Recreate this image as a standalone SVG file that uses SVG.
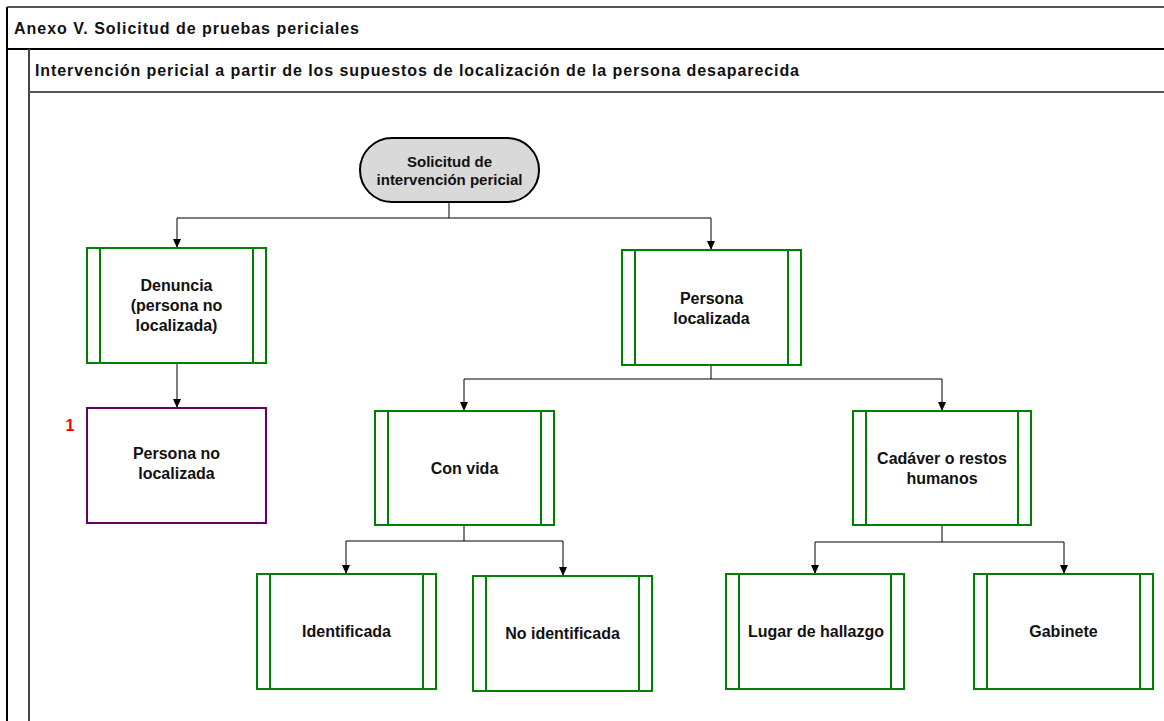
<svg xmlns="http://www.w3.org/2000/svg" width="1164" height="721" viewBox="0 0 1164 721">
  <defs>
    <!-- arrowhead drawn along +x so orient="auto" points it along the line -->
    <marker id="arrow" markerWidth="10" markerHeight="10" refX="9" refY="4.5" orient="auto" markerUnits="userSpaceOnUse" viewBox="0 0 10 10">
      <path d="M0,0.5 L9,4.5 L0,8.5 Z" fill="#000"/>
    </marker>
    <style>
      text { font-family: "Liberation Sans", Arial, sans-serif; font-weight: bold; fill: #111; }
      .hdr { font-size: 16px; }
      .lbl { font-size: 16px; text-anchor: middle; }
      .lbl-s { font-size: 15px; text-anchor: middle; }
      .proc { fill: #fff; stroke: #008000; stroke-width: 2; }
      .bar { stroke: #008000; stroke-width: 2; fill: none; }
      .term { fill: #d9d9d9; stroke: #000; stroke-width: 2; }
      .ref { fill: #fff; stroke: #660066; stroke-width: 2; }
      .conn { fill: none; stroke: #000; stroke-width: 1; }
      .lane { stroke: #555; stroke-width: 2; fill: none; }
    </style>
  </defs>
  <rect width="1164" height="721" fill="#fff"/>

  <!-- swimlane frame -->
  <g id="frame">
    <line class="lane" x1="7" y1="7" x2="1164" y2="7"/>
    <line x1="7" y1="7" x2="7" y2="721" stroke="#000" stroke-width="2"/>
    <line x1="7" y1="49" x2="1164" y2="49" stroke="#000" stroke-width="2"/>
    <line x1="29" y1="49" x2="29" y2="721" stroke="#444" stroke-width="2"/>
    <line class="lane" x1="29" y1="92" x2="1164" y2="92"/>
    <text class="hdr" x="14" y="34" textLength="345" lengthAdjust="spacing">Anexo V. Solicitud de pruebas periciales</text>
    <text class="hdr" x="35" y="76" textLength="764" lengthAdjust="spacing">Intervención pericial a partir de los supuestos de localización de la persona desaparecida</text>
  </g>

  <!-- connectors -->
  <g id="connectors">
    <polyline class="conn" points="449,202 449,218 177,218 177,248" marker-end="url(#arrow)"/>
    <polyline class="conn" points="449,218 711,218 711,250" marker-end="url(#arrow)"/>
    <polyline class="conn" points="177,363 177,408" marker-end="url(#arrow)"/>
    <polyline class="conn" points="711,365 711,379 464,379 464,411" marker-end="url(#arrow)"/>
    <polyline class="conn" points="711,379 942,379 942,411" marker-end="url(#arrow)"/>
    <polyline class="conn" points="464,525 464,541 346,541 346,574" marker-end="url(#arrow)"/>
    <polyline class="conn" points="464,541 563,541 563,576" marker-end="url(#arrow)"/>
    <polyline class="conn" points="942,525 942,542 815,542 815,574" marker-end="url(#arrow)"/>
    <polyline class="conn" points="942,542 1064,542 1064,574" marker-end="url(#arrow)"/>
  </g>

  <g id="start">
    <rect class="term" x="360" y="138" width="179" height="64" rx="32" ry="32"/>
    <text class="lbl-s" x="449.5" y="167">Solicitud de</text>
    <text class="lbl-s" x="449.5" y="185">intervención pericial</text>
  </g>

  <g id="denuncia">
    <rect class="proc" x="87" y="248" width="179" height="115"/>
    <path class="bar" d="M100,248 V363 M253,248 V363"/>
    <text class="lbl" x="176.5" y="291">Denuncia</text>
    <text class="lbl" x="176.5" y="311">(persona no</text>
    <text class="lbl" x="176.5" y="331">localizada)</text>
  </g>

  <g id="no-localizada">
    <rect class="ref" x="87" y="408" width="179" height="115"/>
    <text class="lbl" x="176.5" y="459">Persona no</text>
    <text class="lbl" x="176.5" y="479">localizada</text>
    <text x="70" y="431" font-size="16" style="fill:#ff0000" text-anchor="middle">1</text>
  </g>

  <g id="localizada">
    <rect class="proc" x="622" y="250" width="179" height="115"/>
    <path class="bar" d="M635,250 V365 M788,250 V365"/>
    <text class="lbl" x="711.5" y="304">Persona</text>
    <text class="lbl" x="711.5" y="324">localizada</text>
  </g>

  <g id="con-vida">
    <rect class="proc" x="375" y="411" width="179" height="114"/>
    <path class="bar" d="M388,411 V525 M541,411 V525"/>
    <text class="lbl" x="464.5" y="474">Con vida</text>
  </g>

  <g id="cadaver">
    <rect class="proc" x="853" y="411" width="178" height="114"/>
    <path class="bar" d="M866,411 V525 M1018,411 V525"/>
    <text class="lbl" x="942" y="464">Cadáver o restos</text>
    <text class="lbl" x="942" y="484">humanos</text>
  </g>

  <g id="identificada">
    <rect class="proc" x="257" y="574" width="179" height="115"/>
    <path class="bar" d="M270,574 V689 M423,574 V689"/>
    <text class="lbl" x="346.5" y="637">Identificada</text>
  </g>

  <g id="no-identificada">
    <rect class="proc" x="473" y="576" width="179" height="115"/>
    <path class="bar" d="M486,576 V691 M639,576 V691"/>
    <text class="lbl" x="562.5" y="639">No identificada</text>
  </g>

  <g id="lugar-hallazgo">
    <rect class="proc" x="726" y="574" width="178" height="115"/>
    <path class="bar" d="M739,574 V689 M891,574 V689"/>
    <text class="lbl" x="816" y="637">Lugar de hallazgo</text>
  </g>

  <g id="gabinete">
    <rect class="proc" x="974" y="574" width="179" height="115"/>
    <path class="bar" d="M987,574 V689 M1140,574 V689"/>
    <text class="lbl" x="1063.5" y="637">Gabinete</text>
  </g>
</svg>
